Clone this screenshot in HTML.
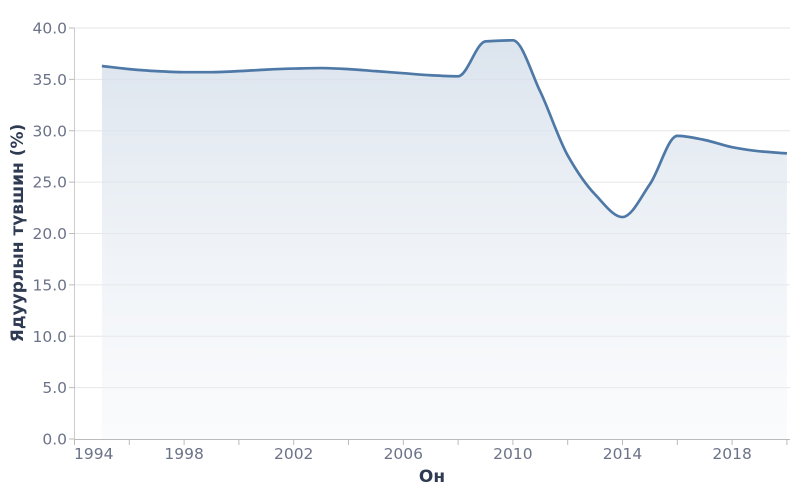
<!DOCTYPE html><html><head><meta charset="utf-8"><style>body{margin:0;background:#fff}svg{display:block;font-family:"DejaVu Sans","Liberation Sans",sans-serif}</style></head><body>
<svg id="s" width="800" height="500" xmlns="http://www.w3.org/2000/svg">
<defs><linearGradient id="g" x1="0" y1="0" x2="0" y2="1"><stop offset="0" stop-color="#d5dfea" stop-opacity="0.85"/><stop offset="1" stop-color="#eef2f7" stop-opacity="0.3"/></linearGradient></defs>
<g id="grid" stroke="#e6e6e6" stroke-width="1"></g>
<path id="area" fill="url(#g)"/>
<path id="line" fill="none" stroke="#4e79a7" stroke-width="2.7"/>
<line x1="74.5" y1="28" x2="74.5" y2="439" stroke="#ccc"/>
<line x1="74.5" y1="439.5" x2="790" y2="439.5" stroke="#bbb"/>
<g id="ax" fill="#6b7388" font-size="15.5"></g>
<text x="432" y="482" text-anchor="middle" font-weight="bold" font-size="17" fill="#2e3b52">Он</text>
<text transform="translate(23,233) rotate(-90)" text-anchor="middle" font-weight="bold" font-size="17" fill="#2e3b52">Ядуурлын түвшин (%)</text>
</svg>
<script>
const X=y=>74.5+(y-1994)*27.4, Y=v=>439-v*10.275;
const ns="http://www.w3.org/2000/svg";
function el(t,a,p,txt){const e=document.createElementNS(ns,t);for(const k in a)e.setAttribute(k,a[k]);if(txt)e.textContent=txt;p.appendChild(e);return e;}
const grid=document.getElementById('grid'),ax=document.getElementById('ax');
for(let v=0;v<=40;v+=5){const y=Y(v);if(v>0)el('line',{x1:74.5,x2:790,y1:y,y2:y},grid);el('line',{x1:69,x2:74.5,y1:y,y2:y,stroke:'#bbb'},ax);el('text',{x:67,y:y+5.5,'text-anchor':'end'},ax,v.toFixed(1));}
for(let yr=1994;yr<=2020;yr+=2){const x=X(yr);el('line',{x1:x,x2:x,y1:439,y2:445,stroke:'#bbb'},ax);}
for(let yr=1994;yr<=2018;yr+=4){el('text',{x:yr==1994?74:X(yr),y:459,'text-anchor':yr==1994?'start':'middle'},ax,String(yr));}
const d=[[1995,36.3],[1996,36.0],[1997,35.8],[1998,35.7],[1999,35.7],[2000,35.8],[2001,35.95],[2002,36.05],[2003,36.1],[2004,36.0],[2005,35.8],[2006,35.6],[2007,35.4],[2008,35.3],[2009,38.7],[2010,38.8],[2011,33.8],[2012,27.6],[2013,23.8],[2014,21.6],[2015,24.8],[2016,29.5],[2017,29.1],[2018,28.4],[2019,28.0],[2020,27.8]];
const p=d.map(a=>[X(a[0]),Y(a[1])]);const n=p.length;
const s=[],m=new Array(n);for(let i=0;i<n-1;i++)s.push((p[i+1][1]-p[i][1])/(p[i+1][0]-p[i][0]));
m[0]=s[0];m[n-1]=s[n-2];for(let i=1;i<n-1;i++){const a=s[i-1],b=s[i];m[i]=a*b<=0?0:2/(1/a+1/b);}
let path='M'+p[0][0]+','+p[0][1];for(let i=0;i<n-1;i++){const h=(p[i+1][0]-p[i][0])/3;path+=`C${p[i][0]+h},${p[i][1]+m[i]*h} ${p[i+1][0]-h},${p[i+1][1]-m[i+1]*h} ${p[i+1][0]},${p[i+1][1]}`;}
document.getElementById('line').setAttribute('d',path);
document.getElementById('area').setAttribute('d',path+`L${p[n-1][0]},439L${p[0][0]},439Z`);
</script></body></html>
